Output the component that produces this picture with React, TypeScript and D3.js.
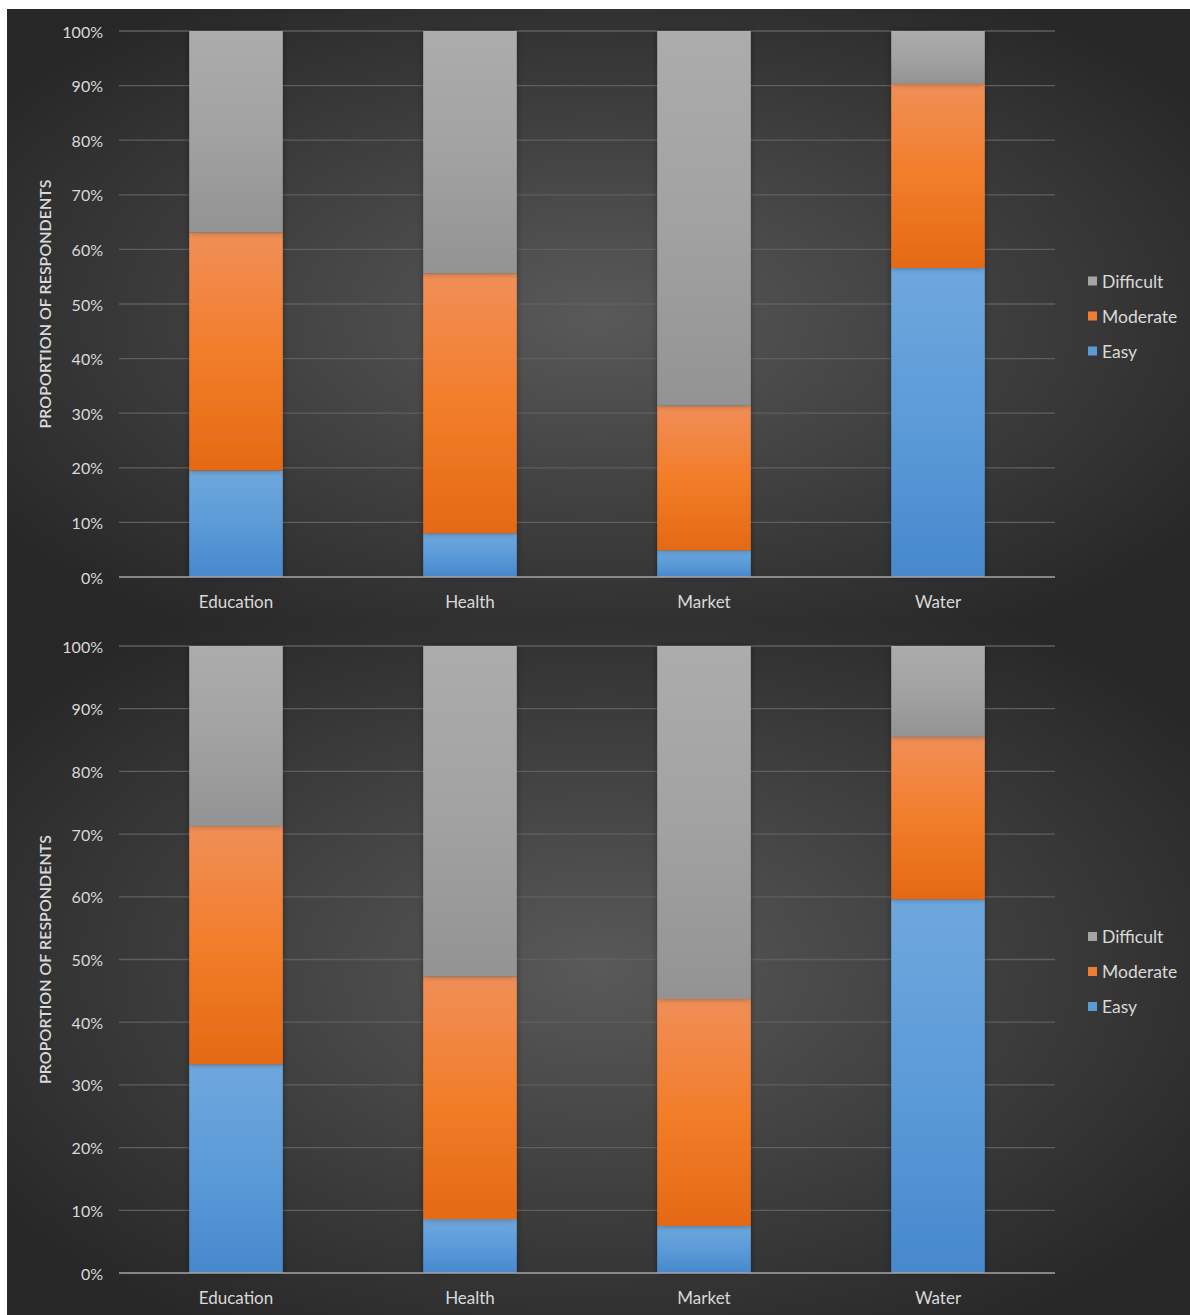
import React from "react";
import * as d3 from "d3";

const categories = ["Education", "Health", "Market", "Water"];
const seriesKeys = ["Easy", "Moderate", "Difficult"];
const legendOrder = ["Difficult", "Moderate", "Easy"];
const yTicks = [0, 10, 20, 30, 40, 50, 60, 70, 80, 90, 100];

// Upper chart (percent of respondents)
const upperEasy = [19.5, 8.0, 4.9, 56.6];
const upperModerate = [43.6, 47.6, 26.5, 33.7];
const upperDifficult = [36.9, 44.4, 68.6, 9.7];

// Lower chart (percent of respondents)
const lowerEasy = [33.3, 8.6, 7.5, 59.6];
const lowerModerate = [38.0, 38.7, 36.2, 25.9];
const lowerDifficult = [28.7, 52.7, 56.3, 14.5];

const FONT = "Lato, 'Open Sans', sans-serif";
const TEXT = "#d9d9d9";

const gradIds: Record<string, string> = {
  Easy: "gEasy",
  Moderate: "gModerate",
  Difficult: "gDifficult",
};
const legendColor: Record<string, string> = {
  Easy: "#5b9bd5",
  Moderate: "#ed7d31",
  Difficult: "#a5a5a5",
};

type PanelProps = {
  y0: number;
  height: number;
  plotTop: number;
  plotBottom: number;
  easy: number[];
  moderate: number[];
  difficult: number[];
  idx: number;
};

function Panel({ y0, height, plotTop, plotBottom, easy, moderate, difficult, idx }: PanelProps) {
  const left = 119;
  const right = 1055;
  const x = d3.scaleBand<string>().domain(categories).range([left, right]).paddingInner(0.6).paddingOuter(0.3);
  const y = d3.scaleLinear().domain([0, 100]).range([plotBottom, plotTop]);

  const rows = categories.map((c, i) => ({
    category: c,
    Easy: easy[i],
    Moderate: moderate[i],
    Difficult: difficult[i],
  }));
  const stacked = d3.stack<any>().keys(seriesKeys)(rows);
  const midY = (plotTop + plotBottom) / 2;

  return (
    <g>
      <rect x={7} y={y0} width={1183} height={height} fill={`url(#bg${idx})`} />
      {yTicks.map((t) => (
        <g key={t}>
          {t > 0 && (
            <line x1={left} x2={right} y1={y(t)} y2={y(t)} stroke="#5f5f5f" strokeWidth={1.3} />
          )}
          <text
            x={103}
            y={y(t)}
            textAnchor="end"
            dominantBaseline="central"
            fill={TEXT}
            fontFamily={FONT}
            fontSize={16}
          >
            {t}%
          </text>
        </g>
      ))}
      {stacked.map((s) => (
        <g key={s.key} filter="url(#barShadow)">
          {s.map((d, i) => (
            <rect
              key={i}
              x={x(d.data.category)}
              width={x.bandwidth()}
              y={y(d[1])}
              height={y(d[0]) - y(d[1])}
              fill={`url(#${gradIds[s.key]})`}
            />
          ))}
        </g>
      ))}
      <line x1={left} x2={right} y1={y(0)} y2={y(0)} stroke="#a6a6a6" strokeWidth={1.5} />
      {categories.map((c) => (
        <text
          key={c}
          x={(x(c) as number) + x.bandwidth() / 2}
          y={plotBottom + 24}
          textAnchor="middle"
          dominantBaseline="central"
          fill={TEXT}
          fontFamily={FONT}
          fontSize={17}
        >
          {c}
        </text>
      ))}
      <text
        transform={`translate(44,${midY}) rotate(-90)`}
        textAnchor="middle"
        dominantBaseline="central"
        fill={TEXT}
        fontFamily={FONT}
        fontSize={16}
        fontWeight={600}
      >
        PROPORTION OF RESPONDENTS
      </text>
      {legendOrder.map((k, i) => {
        const ly = midY - 23 + i * 35;
        return (
          <g key={k}>
            <rect x={1088} y={ly - 4.5} width={9} height={9} fill={legendColor[k]} />
            <text
              x={1102}
              y={ly}
              dominantBaseline="central"
              fill={TEXT}
              fontFamily={FONT}
              fontSize={17.5}
            >
              {k}
            </text>
          </g>
        );
      })}
    </g>
  );
}

export default function App() {
  return (
    <svg
      width={1190}
      height={1315}
      style={{ position: "absolute", left: 0, top: 0, display: "block" }}
    >
      <defs>
        <radialGradient id="bg0" cx="0.5" cy="0.5" r="0.62">
          <stop offset="0%" stopColor="#595959" />
          <stop offset="100%" stopColor="#272727" />
        </radialGradient>
        <radialGradient id="bg1" cx="0.5" cy="0.5" r="0.62">
          <stop offset="0%" stopColor="#595959" />
          <stop offset="100%" stopColor="#272727" />
        </radialGradient>
        <linearGradient id="gEasy" x1="0" y1="0" x2="0" y2="1">
          <stop offset="0%" stopColor="#6fa7dd" />
          <stop offset="50%" stopColor="#5b9bd8" />
          <stop offset="100%" stopColor="#4788cd" />
        </linearGradient>
        <linearGradient id="gModerate" x1="0" y1="0" x2="0" y2="1">
          <stop offset="0%" stopColor="#f08f58" />
          <stop offset="50%" stopColor="#f27d2a" />
          <stop offset="100%" stopColor="#e46a14" />
        </linearGradient>
        <linearGradient id="gDifficult" x1="0" y1="0" x2="0" y2="1">
          <stop offset="0%" stopColor="#acacac" />
          <stop offset="50%" stopColor="#a2a2a2" />
          <stop offset="100%" stopColor="#939393" />
        </linearGradient>
        <filter id="barShadow" x="-20%" y="-5%" width="140%" height="110%">
          <feDropShadow dx="0" dy="0" stdDeviation="3" floodColor="#000" floodOpacity="0.35" />
        </filter>
      </defs>
      <Panel
        idx={0}
        y0={9}
        height={614}
        plotTop={31}
        plotBottom={577}
        easy={upperEasy}
        moderate={upperModerate}
        difficult={upperDifficult}
      />
      <Panel
        idx={1}
        y0={623}
        height={692}
        plotTop={646}
        plotBottom={1273}
        easy={lowerEasy}
        moderate={lowerModerate}
        difficult={lowerDifficult}
      />
    </svg>
  );
}
